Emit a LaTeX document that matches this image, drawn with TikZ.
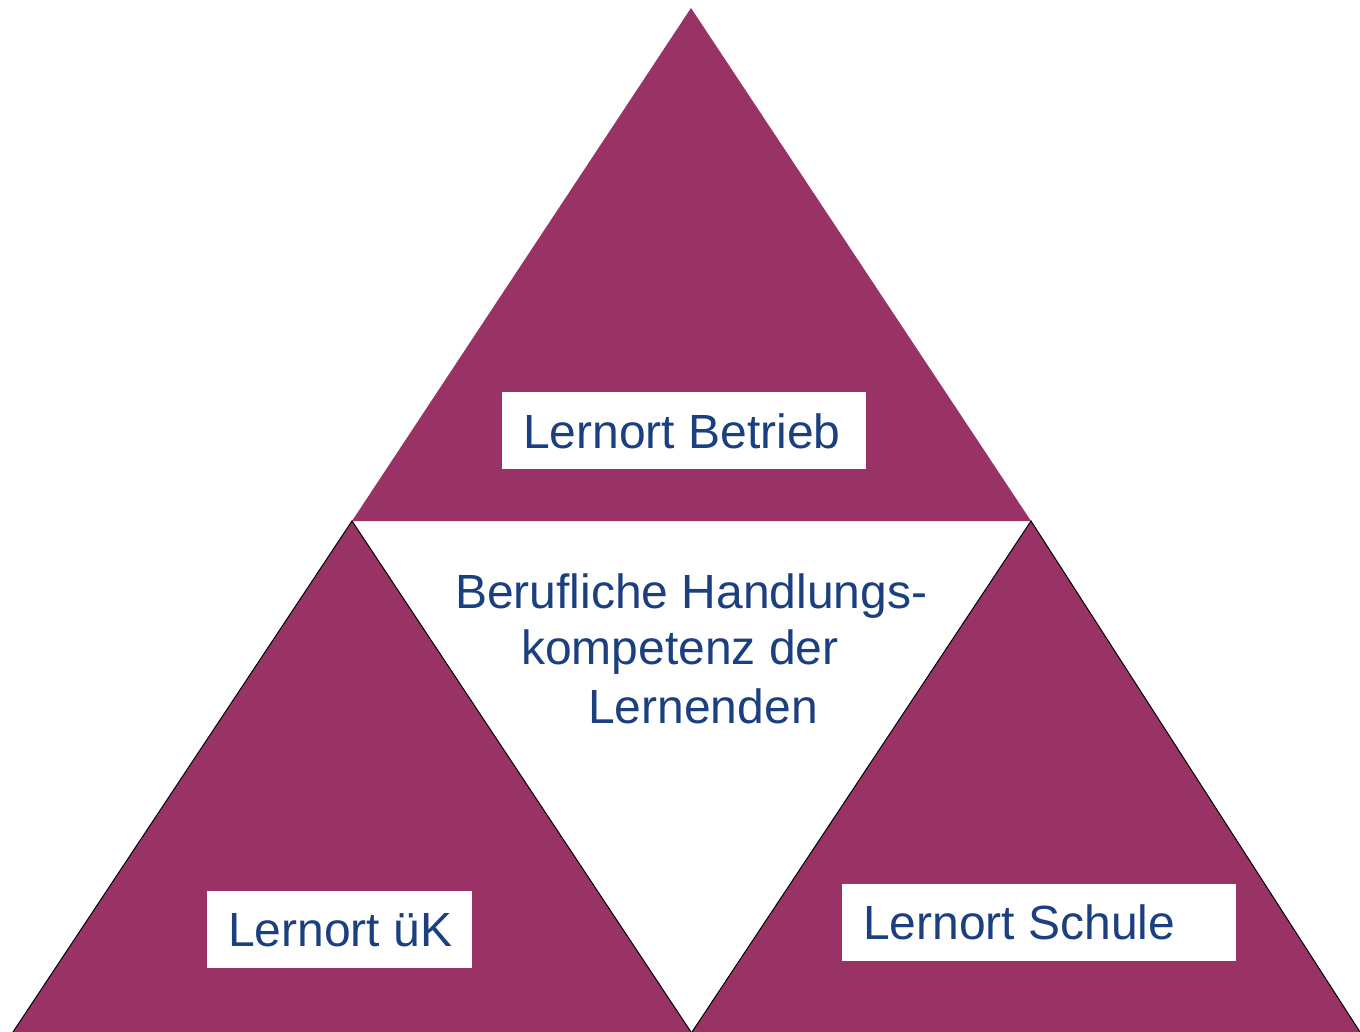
\documentclass[tikz,border=0pt]{standalone}
\usepackage{fontspec}
\setmainfont{Liberation Sans}
\definecolor{lpurple}{HTML}{993366}
\definecolor{ltext}{HTML}{1B3F7F}
\begin{document}
\begin{tikzpicture}[x=1pt,y=-1pt,
  tri/.style={fill=lpurple},
  edge/.style={draw=black,line width=1pt,line join=miter},
  lbox/.style={fill=white,draw=none},
  lab/.style={text=ltext,inner sep=0pt,anchor=base west,font=\fontsize{48}{57}\selectfont}]
\useasboundingbox (0,0) rectangle (1360,1032);
\fill[white] (0,0) rectangle (1360,1032);
% triangles
\coordinate (tA) at (691,8);
\coordinate (tL) at (352,521);
\coordinate (tR) at (1031,521);
\coordinate (lL) at (13,1032);
\coordinate (lR) at (691,1032);
\coordinate (rL) at (692,1032);
\coordinate (rR) at (1360,1032);
\fill[tri] (tA) -- (tL) -- (tR) -- cycle;
\fill[tri] (tL) -- (lL) -- (lR) -- cycle;
\fill[tri] (tR) -- (rL) -- (rR) -- cycle;
\draw[edge] (lL) -- (tL) -- (lR);
\draw[edge] (rL) -- (tR) -- (rR);
% label boxes
\fill[lbox] (502,392) rectangle (866,469);
\fill[lbox] (207,891) rectangle (472,968);
\fill[lbox] (842,884) rectangle (1236,961);
\node[lab] (betrieb) at (523,448) {Lernort Betrieb};
\node[lab] (uek) at (228,946) {Lernort üK};
\node[lab] (schule) at (863,939) {Lernort Schule};
% centre text
\node[lab] (c1) at (455,608) {Berufliche Handlungs-};
\node[lab] (c2) at (521,664) {kompetenz der};
\node[lab] (c3) at (588,723) {Lernenden};
\end{tikzpicture}
\end{document}
